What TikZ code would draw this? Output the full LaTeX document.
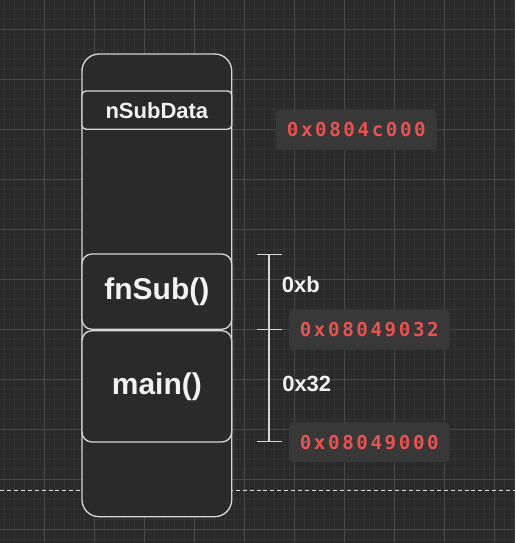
\documentclass[tikz,border=0pt]{standalone}
\usepackage{fontspec}
\setmainfont{Liberation Sans}
\newfontfamily\addrfont[LetterSpace=13.5]{DejaVu Sans Mono}
\definecolor{bgc}{HTML}{2A2A2A}
\definecolor{gridminor}{HTML}{343434}
\definecolor{gridmajor}{HTML}{484848}
\definecolor{edgec}{HTML}{D6D6D6}
\definecolor{txtc}{HTML}{F2F2F2}
\definecolor{addrred}{HTML}{E85252}
\definecolor{addrbg}{HTML}{383838}
\tikzset{
  frame/.style={draw=edgec, line width=1pt, fill=bgc, inner sep=0pt, minimum width=112.3pt},
  cell/.style={frame, text=txtc, font=\bfseries},
  addr/.style={fill=addrbg, rounded corners=3pt, inner sep=0pt, minimum width=120.5pt, minimum height=29.7pt,
     text=addrred, font=\addrfont\bfseries\fontsize{14.4pt}{15pt}\selectfont},
  sizelbl/.style={anchor=west, inner sep=0pt, text=txtc, font=\bfseries\fontsize{16.5pt}{18pt}\selectfont},
  brk/.style={draw=edgec, line width=0.9pt}
}
\begin{document}
\begin{tikzpicture}[x=0.75pt, y=-0.75pt]
\useasboundingbox (0,0) rectangle (515,543);
\fill[bgc] (0,0) rectangle (515,543);
% grid
\foreach \gx in {4.5,14.5,...,514.5} \draw[gridminor, line width=0.75pt] (\gx,0) -- (\gx,543);
\foreach \gy in {9.3,19.3,...,539.3} \draw[gridminor, line width=0.75pt] (0,\gy) -- (515,\gy);
\foreach \gx in {44.5,94.5,...,494.5} \draw[gridmajor, line width=0.75pt] (\gx,0) -- (\gx,543);
\foreach \gy in {29.3,79.3,...,529.3} \draw[gridmajor, line width=0.75pt] (0,\gy) -- (515,\gy);
% dashed baseline
\coordinate (dl) at (0,490.7);
\coordinate (dr) at (515,490.7);
\draw[draw=edgec!85, line width=0.8pt, dash pattern=on 3pt off 2.2pt] (dl) -- (dr);
% stack
\node[frame, rounded corners=12.75pt, minimum height=347pt] (stack) at (156.85,285.35) {};
\node[cell, rounded corners=3pt, minimum height=28.7pt, font=\bfseries\fontsize{16.5pt}{18pt}\selectfont] (nsub) at (156.85,110.15) {nSubData};
\node[cell, rounded corners=7.5pt, minimum height=56.5pt, font=\bfseries\fontsize{22.5pt}{24pt}\selectfont] (fnsub) at (156.85,291.65) {fnSub()};
\node[cell, rounded corners=7.5pt, minimum height=83.5pt, font=\bfseries\fontsize{22.5pt}{24pt}\selectfont] (mainf) at (156.85,386.35) {main()};
% addresses
\node[addr] (a1) at (356.35,130) {0x0804c000};
\node[addr] (a2) at (369.3,329.65) {0x08049032};
\node[addr] (a3) at (369.3,442.2) {0x08049000};
% bracket
\coordinate (bt) at (269,254.3);
\coordinate (bm) at (269,329.3);
\coordinate (bb) at (269,441.7);
\coordinate (btl) at (256.7,254.3);
\coordinate (btr) at (281.7,254.3);
\coordinate (bml) at (256.7,329.3);
\coordinate (bmr) at (281.7,329.3);
\coordinate (bbl) at (256.7,441.7);
\coordinate (bbr) at (281.7,441.7);
\draw[brk] (bt) -- (bb);
\draw[brk] (btl) -- (btr);
\draw[brk] (bml) -- (bmr);
\draw[brk] (bbl) -- (bbr);
\node[sizelbl] (s1) at (281.7,285) {0xb};
\node[sizelbl] (s2) at (282,384.3) {0x32};
\end{tikzpicture}
\end{document}
